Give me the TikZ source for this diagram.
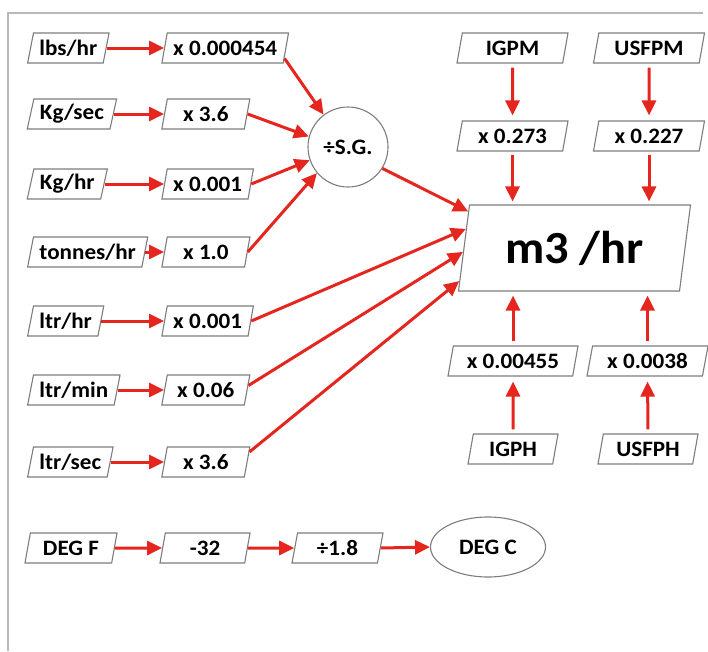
\documentclass[tikz,border=0pt]{standalone}
\usepackage{fontspec}
\setmainfont{Carlito}[FakeStretch=1.05]
\usepackage{tikz}
\usetikzlibrary{positioning,shapes.geometric,arrows.meta}
\definecolor{arrred}{RGB}{228,38,30}
\definecolor{boxgray}{RGB}{125,125,125}
\definecolor{framegray}{RGB}{185,185,185}
\tikzset{
  unitbox/.style={draw=boxgray, line width=1.1pt, trapezium, trapezium left angle=74,
                  trapezium right angle=106, trapezium stretches body, minimum height=30pt,
                  inner xsep=6pt, inner ysep=2pt, font=\fontsize{22}{25}\selectfont\bfseries,
                  align=center},
  factbox/.style={unitbox, minimum width=88pt},
  opnode/.style={draw=boxgray, line width=1.1pt, circle, minimum size=80pt, inner sep=0pt,
                 font=\fontsize{22}{25}\selectfont\bfseries},
  flowarr/.style={-{Triangle[length=15pt,width=14pt]}, line width=3pt, arrred}
}

\begin{document}
\begin{tikzpicture}[x=1pt,y=-1pt]
  \useasboundingbox (0,0) rectangle (708,651);
  \draw[framegray, line width=2pt] (8,651) -- (8,13) -- (703,13);

  % flow inputs
  \node[unitbox, anchor=west] (lbs) at (30,48) {lbs/hr};
  \node[unitbox, anchor=west] (kgs) at (30,114) {Kg/sec};
  \node[unitbox, anchor=west] (kgh) at (30,184) {Kg/hr};
  \node[unitbox, anchor=west] (tph) at (30,252) {tonnes/hr};
  \node[unitbox, anchor=west] (lph) at (30,321) {ltr/hr};
  \node[unitbox, anchor=west] (lpm) at (30,390) {ltr/min};
  \node[unitbox, anchor=west] (lps) at (30,462) {ltr/sec};

  % factors
  \node[factbox, anchor=west] (lbsfac) at (164,48) {x 0.000454};
  \node[factbox, anchor=west] (kgsfac) at (164,114) {x 3.6};
  \node[factbox, anchor=west] (kghfac) at (164,184) {x 0.001};
  \node[factbox, anchor=west] (tphfac) at (164,252) {x 1.0};
  \node[factbox, anchor=west] (lphfac) at (164,321) {x 0.001};
  \node[factbox, anchor=west] (lpmfac) at (164,390) {x 0.06};
  \node[factbox, anchor=west] (lpsfac) at (164,462) {x 3.6};

  \node[opnode] (sg) at (348,147) {÷S.G.};

  % target
  \node[unitbox, minimum width=232pt, minimum height=86pt,
        font=\fontsize{46}{50}\selectfont\bfseries] (m3) at (574.5,248) {m3 /hr};

  \node[unitbox, minimum width=111pt] (igpm) at (512.5,48) {IGPM};
  \node[unitbox, minimum width=111pt] (usfpm) at (649,48) {USFPM};
  \node[unitbox, minimum width=111pt] (igpmfac) at (512.5,136) {x 0.273};
  \node[unitbox, minimum width=111pt] (usfpmfac) at (649,136) {x 0.227};
  \node[unitbox, minimum width=130pt] (igphfac) at (513,361) {x 0.00455};
  \node[unitbox, minimum width=121pt] (usfphfac) at (647.5,361) {x 0.0038};
  \node[unitbox, minimum width=90pt] (igph) at (513,449) {IGPH};
  \node[unitbox, minimum width=100pt] (usfph) at (648,449) {USFPH};

  % temperature
  \node[factbox, minimum width=92pt] (degf) at (71,548) {DEG F};
  \node[factbox, minimum width=90pt] (sub32) at (205,548) {-32};
  \node[factbox, minimum width=91pt] (div18) at (337.5,548) {÷1.8};
  \node[draw=boxgray, line width=1.1pt, ellipse, minimum width=115pt, minimum height=60pt,
        font=\fontsize{22}{25}\selectfont\bfseries] (degc) at (488,547) {DEG C};

  \draw[flowarr] (lbs.east) -- (lbsfac.west);
  \draw[flowarr] (kgs.east) -- (kgsfac.west);
  \draw[flowarr] (kgh.east) -- (kghfac.west);
  \draw[flowarr] (tph.east) -- (tphfac.west);
  \draw[flowarr] (lph.east) -- (lphfac.west);
  \draw[flowarr] (lpm.east) -- (lpmfac.west);
  \draw[flowarr] (lps.east) -- (lpsfac.west);

  % mass flows through S.G.
  \draw[flowarr] (lbsfac.-10) -- (sg.127);
  \draw[flowarr] (kgsfac.east) -- (sg.165);
  \draw[flowarr] (kghfac.east) -- (sg.199);
  \draw[flowarr] (tphfac.east) -- (sg.220);
  \draw[flowarr] (sg.-32) -- (m3.161);

  \draw[flowarr] (lphfac.east) -- (m3.170);
  \draw[flowarr] (lpmfac.6) -- (m3.182);
  \draw[flowarr] (lpsfac.13) -- (m3.196);

  \draw[flowarr, shorten <=4pt, shorten >=5pt] (igpm.south) -- (igpmfac.north);
  \draw[flowarr, shorten <=4pt, shorten >=5pt] (usfpm.south) -- (usfpmfac.north);
  \draw[flowarr, shorten <=3pt, shorten >=3pt] (igpmfac.south) -- (igpmfac.south |- m3.north);
  \draw[flowarr, shorten <=3pt, shorten >=3pt] (usfpmfac.south) -- (usfpmfac.south |- m3.north);
  \draw[flowarr, shorten <=4pt, shorten >=4pt] (igphfac.north) -- (igphfac.north |- m3.south);
  \draw[flowarr, shorten <=4pt, shorten >=4pt] (usfphfac.north) -- (usfphfac.north |- m3.south);
  \draw[flowarr, shorten <=4pt, shorten >=5pt] (igph.north) -- (igphfac.south);
  \draw[flowarr, shorten <=4pt, shorten >=5pt] (usfph.north) -- (usfphfac.south);

  \draw[flowarr] (degf.east) -- (sub32.west);
  \draw[flowarr] (sub32.east) -- (div18.west);
  \draw[flowarr] (div18.east) -- (degc.west);
\end{tikzpicture}
\end{document}
